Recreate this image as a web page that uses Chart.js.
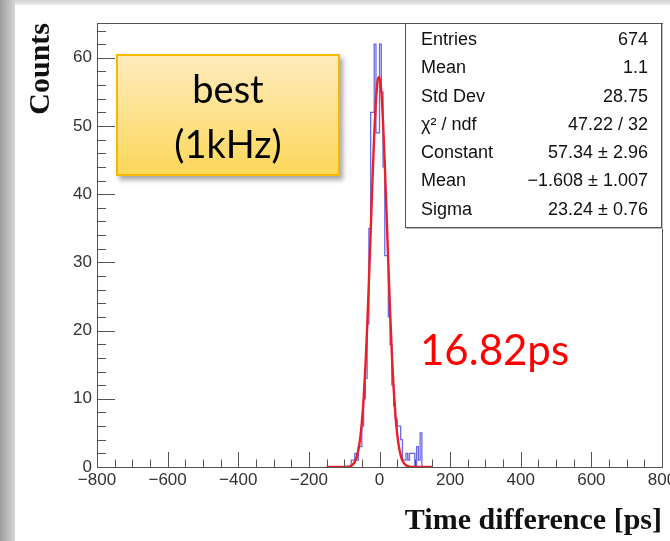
<!DOCTYPE html>
<html>
<head>
<meta charset="utf-8">
<script src="https://cdn.jsdelivr.net/npm/chart.js@4.4.1/dist/chart.umd.min.js"></script>
<style>
  body { margin: 0; background: #fff; }
  #page { position: relative; width: 670px; height: 541px; overflow: hidden; background: #fff; }
  #edgeLeft { position: absolute; left: 0; top: 0; width: 15px; height: 541px; background: linear-gradient(to right, #9c9c9c, #d6d6d6); }
  #edgeTop { position: absolute; left: 15px; top: 0; width: 655px; height: 5px; background: linear-gradient(to bottom, #d0d0d0, #eeeeee); }
  #chart { position: absolute; left: 0; top: 0; }
  #stats { position: absolute; left: 405px; top: 23px; width: 257px; height: 205px; border: 1px solid #555; background: #fff;
           box-shadow: 1px 1px 0 #bbb; font-family: "Liberation Sans", Arial, sans-serif; font-size: 18px; color: #111;
           padding-top: 1px; box-sizing: border-box; }
  #stats .row { display: flex; justify-content: space-between; height: 28.3px; line-height: 28.3px; padding: 0 13px 0 15px; }
  #tag { position: absolute; left: 116px; top: 54px; width: 224px; height: 122px; box-sizing: border-box;
         border: 2px solid #f6b900; background: linear-gradient(to bottom, #feebbd, #fdd85c);
         box-shadow: 3px 4px 5px rgba(0,0,0,0.35); text-align: center; font-family: Lato, "Open Sans", sans-serif;
         font-size: 38px; line-height: 55px; padding-top: 5px; color: #000; }
  #res { position: absolute; left: 420px; top: 328px; font-family: Lato, "Open Sans", sans-serif; font-size: 42px;
         line-height: 42px; color: #ff0000; white-space: nowrap; }
</style>
</head>
<body>
<div id="page">
  <div id="edgeLeft"></div>
  <div id="edgeTop"></div>
  <canvas id="chart" width="670" height="541"></canvas>
  <div id="tag"><div>best</div><div>(1kHz)</div></div>
  <div id="res">16.82ps</div>
  <div id="stats"></div>
</div>
<script>
// histogram: 5 ps bins, lower edges + counts
const binWidth = 5;
const binLow = [-80, -75, -70, -65, -60, -55, -50, -45, -40, -35, -30, -25, -20, -15, -10, -5,
                0, 5, 10, 15, 20, 25, 30, 35, 40, 45, 50, 55, 60, 65, 70, 75, 80, 85, 90, 95, 100, 105, 110, 115];
const counts = [1, 1, 2, 1, 3, 3, 6, 10, 13, 21, 35, 52, 52, 62, 49, 49,
                62, 55, 44, 31, 31, 22, 18, 12, 9, 7, 6, 6, 4, 1, 1, 2, 1, 2, 2, 2, 0, 3, 1, 5];

// gaussian fit curve
const fitX = [-150, -120, -100, -90, -85, -80, -75, -70, -65, -60, -55, -50, -45, -40, -35, -30, -25, -20, -15, -10,
              -5, 0, 5, 10, 15, 20, 25, 30, 35, 40, 45, 50, 55, 60, 65, 70, 75, 80, 85, 90, 100, 120, 150];
const fitY = [0, 0, 0.01, 0.04, 0.09, 0.19, 0.39, 0.75, 1.39, 2.44, 4.09, 6.55, 10.0, 14.65, 20.4, 27.2, 34.5, 41.9, 48.6, 53.7,
              56.7, 57.2, 55.1, 50.6, 44.4, 37.2, 29.8, 22.8, 16.6, 11.6, 7.68, 4.87, 2.96, 1.71, 0.94, 0.50, 0.25, 0.12, 0.05, 0.02, 0, 0, 0];

const xTickValues = [-800, -600, -400, -200, 0, 200, 400, 600, 800];
const yTickValues = [0, 10, 20, 30, 40, 50, 60];

const statsLabels = ['Entries', 'Mean', 'Std Dev', 'χ² / ndf', 'Constant', 'Mean', 'Sigma'];
const statsValues = ['674', '1.1', '28.75', '47.22 / 32', '57.34 ± 2.96', '−1.608 ± 1.007', '23.24 ± 0.76'];

const statsBox = document.getElementById('stats');
statsLabels.forEach((lab, i) => {
  const row = document.createElement('div');
  row.className = 'row';
  const a = document.createElement('span'); a.textContent = lab;
  const b = document.createElement('span'); b.textContent = statsValues[i];
  row.appendChild(a); row.appendChild(b);
  statsBox.appendChild(row);
});

// step outline of the histogram
const histPoints = [{x: binLow[0], y: 0}];
binLow.forEach((lo, i) => histPoints.push({x: lo, y: counts[i]}));
histPoints.push({x: binLow[binLow.length - 1] + binWidth, y: 0});

const fitPoints = fitX.map((x, i) => ({x: x, y: fitY[i]}));

const minus = v => v < 0 ? '\u2212' + Math.abs(v) : String(v);

// ROOT style inward ticks + frame
const rootFrame = {
  id: 'rootFrame',
  afterDraw(chart) {
    const {ctx, chartArea: a, scales: {x, y}} = chart;
    ctx.save();
    ctx.strokeStyle = '#555';
    ctx.lineWidth = 1;
    ctx.beginPath();
    for (let v = x.min; v <= x.max; v += 50) {
      const px = Math.round(x.getPixelForValue(v)) + 0.5;
      const len = v % 200 === 0 ? 15 : 7.5;
      ctx.moveTo(px, a.bottom);
      ctx.lineTo(px, a.bottom - len);
    }
    for (let v = 0; v <= y.max; v += 2) {
      const py = Math.round(y.getPixelForValue(v)) + 0.5;
      const len = v % 10 === 0 ? 18 : 9;
      ctx.moveTo(a.left, py);
      ctx.lineTo(a.left + len, py);
    }
    ctx.stroke();
    ctx.strokeRect(Math.round(a.left) + 0.5, Math.round(a.top) + 0.5, Math.round(a.width), Math.round(a.height));
    ctx.restore();
  }
};

new Chart(document.getElementById('chart'), {
  type: 'line',
  data: {
    datasets: [
      {
        label: 'fit',
        data: fitPoints,
        borderColor: '#e8202a',
        borderWidth: 2.4,
        pointRadius: 0,
        cubicInterpolationMode: 'monotone',
        fill: false
      },
      {
        label: 'hist',
        data: histPoints,
        borderColor: 'rgb(105,105,230)',
        borderWidth: 1.3,
        pointRadius: 0,
        stepped: true,
        fill: false
      }
    ]
  },
  options: {
    responsive: false,
    animation: false,
    devicePixelRatio: 1,
    layout: { padding: { left: 0, top: 23, right: 8, bottom: 0 } },
    plugins: { legend: { display: false }, tooltip: { enabled: false } },
    scales: {
      x: {
        type: 'linear',
        min: -800,
        max: 800,
        grid: { display: false, drawTicks: false },
        border: { display: false },
        afterBuildTicks: s => { s.ticks = xTickValues.map(v => ({value: v})); },
        afterFit: s => { s.height = 74; s.paddingLeft = 0; s.paddingRight = 0; },
        ticks: {
          padding: 3,
          maxRotation: 0,
          autoSkip: false,
          color: '#333',
          font: { family: '"Liberation Sans", Arial, sans-serif', size: 17 },
          callback: v => minus(v)
        },
        title: {
          display: true,
          text: 'Time difference [ps]',
          align: 'end',
          color: '#111',
          padding: { top: 0, bottom: 2 },
          font: { family: '"Liberation Serif", "Times New Roman", serif', size: 30, weight: 'bold' }
        }
      },
      y: {
        min: 0,
        max: 65.1,
        grid: { display: false, drawTicks: false },
        border: { display: false },
        afterBuildTicks: s => { s.ticks = yTickValues.map(v => ({value: v})); },
        afterFit: s => { s.width = 97; s.paddingTop = 0; s.paddingBottom = 0; },
        ticks: {
          padding: 5,
          autoSkip: false,
          color: '#333',
          font: { family: '"Liberation Sans", Arial, sans-serif', size: 17 }
        },
        title: {
          display: true,
          text: 'Counts',
          align: 'end',
          color: '#111',
          padding: { top: 23, bottom: 0 },
          font: { family: '"Liberation Serif", "Times New Roman", serif', size: 30, weight: 'bold' }
        }
      }
    }
  },
  plugins: [rootFrame]
});
</script>
</body>
</html>
